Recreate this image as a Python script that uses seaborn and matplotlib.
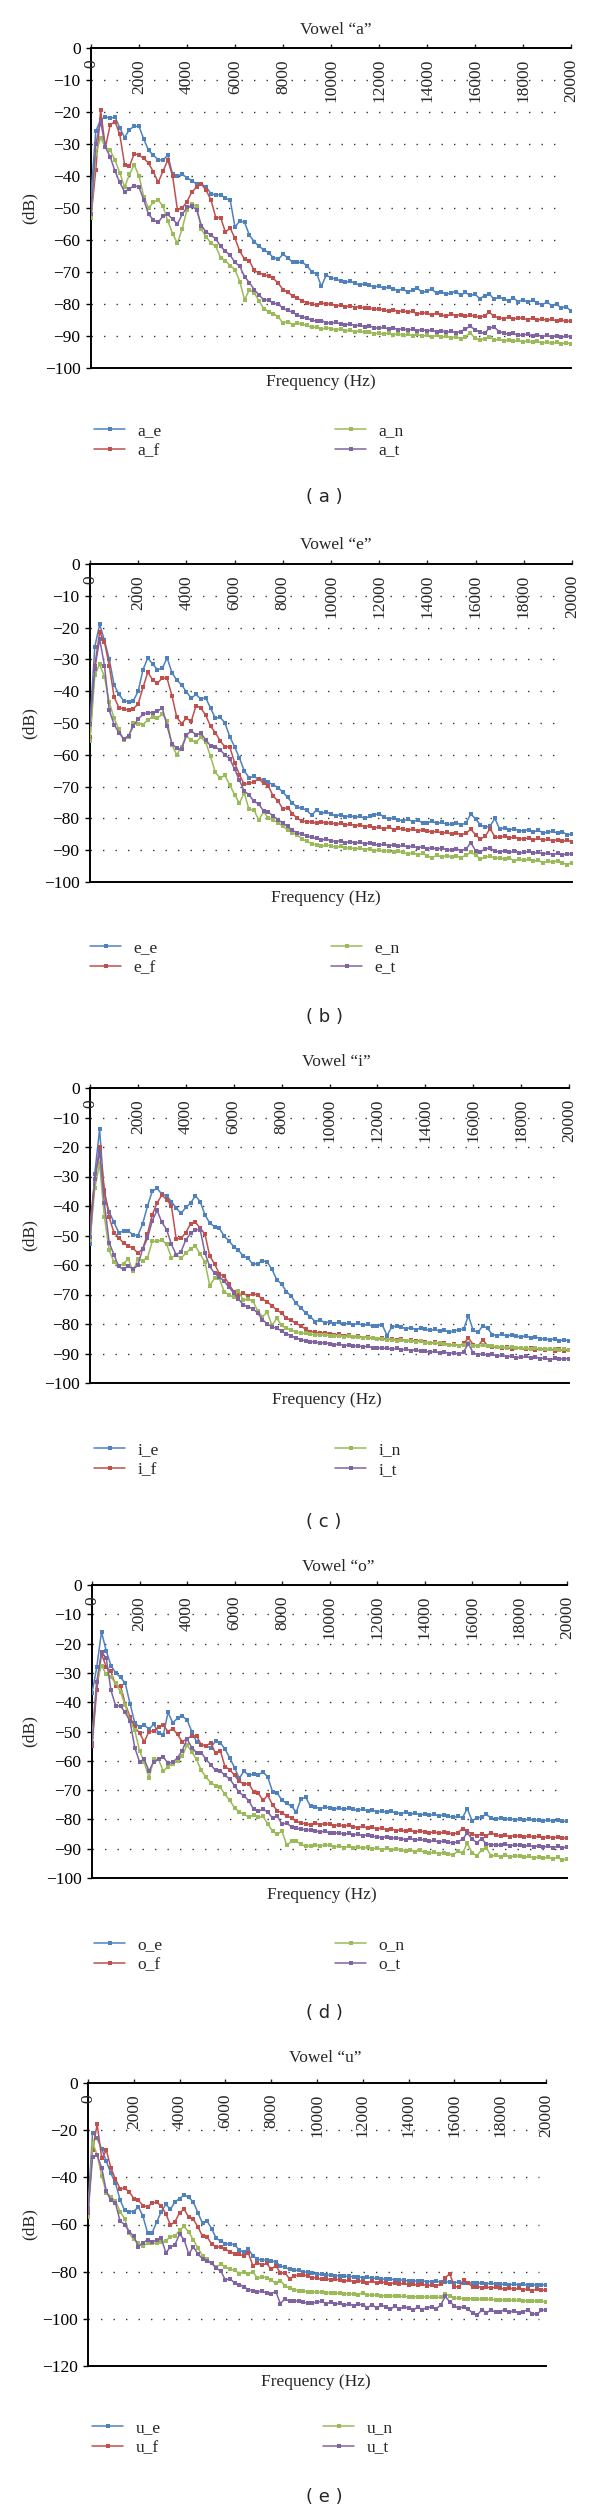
import matplotlib
matplotlib.use("Agg")
import matplotlib.pyplot as plt
from matplotlib.lines import Line2D
from matplotlib.transforms import blended_transform_factory
import seaborn as sns

# ---- data (dB values, one point every 200 Hz) ----
FREQ = list(range(0, 20001, 200))
X_TICKS = list(range(0, 20001, 2000))
VOWELS = ["a", "e", "i", "o", "u"]
SPEAKERS = ["e", "f", "n", "t"]
PANEL_TAGS = ["a", "b", "c", "d", "e"]

A_E = [-46, -26, -22.5, -21.5, -22, -21.5, -25, -28, -25.5, -24.5,
       -24.5, -28.5, -32, -33.5, -35, -35, -33.5, -39.5, -40, -39.5,
       -40.5, -41.5, -42.5, -42.5, -43.5, -45.5, -46, -45.8, -47, -47.5,
       -56, -54, -54.5, -58.5, -60.5, -62, -63, -64, -65.5, -66,
       -64.5, -65.5, -67, -67, -67, -68, -70] + [
       -70.5, -74.5, -71, -71.8,
       -72.2, -72.8, -73.2, -72.9, -73.5, -74.1, -73.6, -74.2, -74.6, -74.4,
       -75.1, -74.7, -75.3, -75.8, -75.2, -76.4, -75.5, -75.1, -76.3, -76,
       -75.4, -76.6, -76.2, -77, -76.5, -76.1, -77.2, -76.4, -77.3, -77,
       -78.3, -77.4, -76.9, -78.5, -77.8, -78.4, -79, -78.1, -79.3, -78.6,
       -79.5, -78.8, -79.7, -80.2, -79.4, -80.5, -80.1, -81.2, -80.8, -82.3]
A_F = [-53, -38, -19.5, -31, -24, -23, -27, -36.5, -37, -33,
       -33.5, -34.5, -36, -38.7, -42, -38.5, -35, -40, -50.5, -50,
       -48, -45, -43.5, -42.5, -44.5, -47.5, -53, -53, -57.5, -56.3,
       -59.5, -63.5, -66, -66.5, -69.5, -70.3, -70.8, -71.3, -72, -73.5,
       -75.5, -76.3, -77.5, -78.2, -79, -79.6, -80] + [
       -80.3, -79.6, -80.1, -79.9,
       -80.6, -80.3, -80.9, -80.5, -81.1, -80.8, -81.4, -81.2, -81.7, -81.5,
       -81.9, -82.3, -81.8, -82.4, -82.1, -82.6, -82.3, -83.2, -82.7, -82.9,
       -83.5, -82.8, -83.4, -83.9, -83.1, -83.6, -83.3, -83.9, -83.5, -83.8,
       -84.1, -83.6, -82.6, -83.9, -84.3, -84.6, -84.1, -84.7, -84.3, -84.5,
       -84.9, -84.4, -85, -84.7, -85.1, -84.8, -85.3, -85, -85.4, -85.3]
A_N = [-53, -33, -28, -31, -32, -35, -39, -43.5, -39.5, -36.5,
       -40, -46.5, -50, -48.2, -47.5, -49.5, -54, -58, -61, -56.5,
       -50.5, -48.7, -49.5, -56.7, -59, -61, -62, -65.5, -66.5, -68,
       -69.3, -73, -78.7, -75.5, -76.5, -79, -81.5, -82.4, -83, -84,
       -86, -85.5, -86.5, -86, -86.3, -86.7, -87.3] + [
       -87.2, -87.9, -87.4, -87.7,
       -88.1, -87.8, -88.4, -88.2, -88.7, -88.4, -88.9, -88.6, -89.3, -89.1,
       -89.5, -89, -89.6, -89.3, -89.8, -89.4, -89.9, -89.5, -90.1, -89.7,
       -90.2, -89.8, -90.4, -90, -90.6, -90.2, -90.8, -90.3, -89, -90.7,
       -91.2, -90.8, -90.2, -91.3, -91, -91.5, -91.2, -91.7, -91.4, -91.8,
       -91.5, -92, -91.7, -92.2, -91.9, -92.3, -92, -92.4, -92.1, -92.4]
A_T = [-52, -30, -23, -31, -34, -38.5, -42, -45, -44, -43,
       -43.5, -47.5, -52, -53.7, -54.5, -52.5, -52, -53.5, -55, -52,
       -49.8, -49.5, -50.5, -55.5, -57.5, -58.5, -59.6, -62, -63.5, -64.8,
       -67, -68.2, -71.5, -73.3, -75.5, -77.2, -78.7, -78.8, -79.8, -80,
       -81.4, -82, -82.6, -83.5, -84, -84.5, -85] + [
       -85.4, -85.2, -85.8, -86,
       -85.7, -86.3, -86.5, -86.2, -86.8, -86.6, -87.1, -86.8, -87.4, -87.6,
       -87.3, -87.8, -87.5, -88, -87.7, -88.2, -87.9, -88.3, -88, -88.4,
       -88.2, -88.7, -88.3, -88.9, -88.5, -89, -88.6, -87.8, -87, -88,
       -88.8, -89.2, -87.5, -87.2, -88.6, -89.1, -89.5, -89.2, -89.8, -89.7,
       -89.4, -90, -89.6, -90.2, -89.8, -90.3, -89.9, -90.4, -90, -90.2]

E_E = [-50, -26, -19, -24, -30, -38, -41, -43, -43.3, -43,
       -40, -33.2, -29.5, -31.5, -33.2, -32.8, -29.5, -34.2, -36.5, -38,
       -40.2, -42.2, -41, -42.5, -42, -45.3, -48.5, -48.2, -50, -54.3,
       -57.5, -61, -65, -67.2, -66.8, -67.7, -67.8, -68.7, -69.4, -70.3,
       -71.7, -73.4, -75.2, -76.5, -76.8, -77.5, -79] + [
       -77.3, -78.4, -78, -78.6,
       -79.2, -78.8, -79.5, -79.1, -79.7, -79.3, -80, -79.4, -78.9, -78.5,
       -79.6, -80.2, -79.8, -80.5, -80.7, -80.3, -81, -80.6, -81.4, -81.3,
       -80.9, -81.6, -81.2, -81.9, -81.8, -81.4, -82, -81.5, -78.6, -80.2,
       -82, -82.8, -82.4, -80, -83.4, -82.9, -83.6, -83.2, -83.9, -83.9,
       -83.5, -84.2, -83.8, -84.5, -84.4, -84, -84.7, -84.3, -85.1, -85]
E_F = [-54.5, -32, -21.5, -24.5, -32, -41.8, -45.2, -45.5, -46, -45.5,
       -44, -38.8, -34, -36.5, -37.5, -35.8, -36, -41.4, -48.2, -50.2,
       -48.5, -49.5, -44.5, -45.3, -47.5, -51, -53, -55.6, -57.5, -57.5,
       -62.5, -66.2, -69.3, -69, -68.5, -67.5, -69, -69.8, -73, -74.5,
       -77, -76.6, -78.5, -80, -80.8, -81, -81.2] + [
       -81.5, -81, -81.6, -81.3,
       -81.9, -81.6, -82.1, -81.8, -82.3, -82, -82.6, -82.3, -82.9, -82.8,
       -83.3, -82.7, -83.5, -83.1, -83.4, -83.8, -83.3, -84, -83.6, -83.9,
       -84.4, -84, -84.7, -84.3, -85, -84.6, -85.1, -84.7, -83.4, -85.2,
       -86.5, -85.6, -83.2, -85.8, -86, -85.6, -86.2, -85.8, -86.4, -86.5,
       -86.1, -86.7, -86.3, -86.9, -86.6, -87, -86.7, -87.2, -86.9, -87.3]
E_N = [-55.6, -35, -31.5, -35.5, -43.5, -48.5, -52, -55.5, -54.3, -50,
       -50.2, -50.5, -49, -48, -48.5, -47.2, -49.3, -57, -60, -57.5,
       -54, -55.5, -56, -54.5, -56, -60.5, -65.5, -67.3, -66.5, -69.5,
       -72.5, -75.2, -72, -77.2, -77.3, -80.5, -78, -79.8, -80.5, -81.3,
       -82.5, -83.6, -84.5, -85.2, -86.5, -87.2, -88] + [
       -88.3, -88.8, -88.4, -88.6,
       -89.1, -88.8, -89.4, -89.2, -89.6, -89.3, -89.8, -89.5, -90.1, -90,
       -90.4, -90.1, -90.7, -90.3, -90.7, -91.2, -90.8, -91.5, -91, -91.8,
       -92.3, -91.6, -92.1, -91.7, -92.1, -91.8, -92.3, -91.6, -90.7, -91.5,
       -92.8, -92.2, -91.8, -92.6, -92.3, -92.9, -92.5, -93.3, -92.8, -93.2,
       -92.9, -93.5, -93.1, -94.1, -93.4, -93.8, -93.3, -94, -94.5, -93.9]
E_T = [-50.3, -33, -23.5, -32, -46, -50.5, -53, -55, -54, -51,
       -48.7, -47.3, -46.7, -46.8, -46.3, -45.3, -51, -56.5, -58, -58.2,
       -53.8, -52.5, -53.7, -53.3, -55.2, -57.2, -57.5, -58.5, -60, -61.3,
       -64.5, -68, -71.4, -72.6, -74.6, -75.5, -77.6, -78.1, -79.2, -80.4,
       -81.5, -82.5, -83.8, -84.5, -85, -85.5, -86] + [
       -86.3, -86.8, -86.5, -87,
       -87.3, -87, -87.6, -87.3, -87.8, -87.5, -88, -87.7, -88.2, -88.4,
       -88.1, -88.6, -88.3, -88.8, -88.5, -89.1, -88.7, -89.3, -88.9, -89.5,
       -89.2, -89.7, -89.3, -89.9, -90, -89.6, -90.1, -89.7, -87.6, -90.2,
       -90.5, -89.6, -89.3, -90.4, -90.5, -90.2, -90.7, -90.4, -90.9, -90.7,
       -90.4, -91, -90.6, -91.2, -90.9, -91.4, -91, -91.5, -91.1, -91.3]

I_E = [-53, -29, -14, -36, -42, -45.5, -49, -48.5, -48.5, -49.8,
       -50, -46, -40, -35, -34, -36, -36.5, -38.5, -40.7, -42.5,
       -40.5, -39, -36.5, -38.5, -43, -45.8, -47, -47.5, -50.2, -51.8,
       -53.8, -55, -57, -57.7, -59.8, -59.5, -58.5, -59, -61.5, -65,
       -66.5, -69, -70.5, -73, -74.5, -76.2, -77.5] + [
       -79.2, -78.6, -79.5, -79.4,
       -79.9, -79.3, -80.1, -79.7, -80.2, -79.8, -80.5, -80.1, -80.8, -80.6,
       -80.2, -83.9, -81, -80.7, -81.1, -81.6, -81.2, -81.9, -81.4, -81.7,
       -82.2, -81.8, -82.5, -82.1, -82.8, -82.3, -82, -81.7, -77.2, -82.2,
       -82.8, -80.6, -81.5, -83.6, -83.9, -83.4, -84.1, -83.7, -84.2, -84.4,
       -84, -84.7, -84.3, -85.1, -85, -85.4, -85, -85.7, -85.3, -85.8]
I_F = [-46, -31, -20, -34.5, -43.8, -49, -50.7, -52.6, -53.5, -54.3,
       -56, -54.5, -49.5, -43, -39, -36.3, -37.8, -40, -51.2, -51,
       -49, -46, -45.5, -47.5, -49.5, -57, -59.6, -63, -63.8, -66.5,
       -69, -70, -69.6, -70.5, -69.7, -70.2, -71.6, -72.5, -73.8, -75.3,
       -76.3, -78, -78.8, -79.8, -80.6, -81.8, -82.6] + [
       -82.8, -83.2, -82.9, -83.3,
       -83.7, -83.4, -84, -83.7, -84.3, -84, -84.6, -84.3, -84.9, -85,
       -84.7, -85.3, -85, -85.5, -85.2, -85.7, -85.4, -85.9, -85.6, -86.1,
       -86.5, -86.2, -86.8, -86.5, -87.2, -86.9, -87.4, -86.6, -84.7, -87,
       -87.6, -85.3, -87.4, -87.9, -87.8, -88.2, -87.9, -88.4, -88.1, -88.3,
       -88.6, -88.2, -88.7, -88.4, -88.9, -88.5, -89, -88.6, -89.1, -88.9]
I_N = [-51.5, -34, -25.5, -43.6, -54.9, -59, -60.5, -59.5, -58, -62,
       -58, -58.5, -57.5, -52, -52, -51.5, -53, -57.5, -56.5, -57.7,
       -56, -54.5, -53.5, -56.3, -59, -67, -64.5, -64.5, -69, -70,
       -71, -68.7, -72, -71.5, -72.2, -75.5, -77.5, -76, -80.5, -78,
       -80.5, -81.5, -82, -82.8, -83, -83.2, -83.5] + [
       -83.6, -83.8, -83.7, -83.9,
       -84.1, -84, -84.3, -84.2, -84.5, -84.4, -84.7, -84.6, -84.9, -85.2,
       -85.1, -85.4, -85.3, -85.6, -85.5, -85.8, -85.7, -86, -85.9, -86.4,
       -86.3, -86.6, -86.5, -86.9, -87.2, -87, -87.3, -87.1, -86.4, -87.3,
       -87.5, -87.2, -87.6, -87.5, -87.8, -87.7, -88, -87.8, -88.1, -88.3,
       -88.1, -88.4, -88.2, -88.5, -88.4, -88.6, -88.5, -88.7, -88.5, -88.7]
I_T = [-50.5, -31, -21.5, -39, -52.4, -56.5, -60.5, -61.5, -60.3, -61.5,
       -60, -54.5, -51, -45, -41.5, -45.5, -48, -53, -56.5, -55.5,
       -51.5, -49.3, -48, -48, -56, -60.5, -62.8, -64, -65.5, -67.5,
       -69.5, -71.5, -73.5, -74.2, -74.8, -76.3, -78.5, -80, -80.9, -81.5,
       -82.3, -83.3, -84, -84.8, -85.3, -85.7, -86] + [
       -86.1, -86.5, -86.3, -86.7,
       -87, -86.8, -87.3, -87.1, -87.5, -87.3, -87.8, -87.5, -88.1, -88,
       -88.3, -88.1, -88.6, -88.3, -88.8, -88.5, -89, -88.7, -89.3, -89.2,
       -89.6, -89.3, -89.8, -89.5, -90, -89.7, -90.3, -89.4, -86.7, -89.8,
       -90.4, -90.1, -90.6, -90.3, -90.9, -90.6, -91.1, -90.8, -91.4, -91.3,
       -91, -91.5, -91.2, -91.8, -91.4, -92.3, -91.6, -92, -91.7, -91.8]

O_E = [-37, -28, -16, -22.5, -27.5, -30, -31.5, -33.5, -40.5, -47,
       -48.5, -47.8, -49.2, -47.5, -50.5, -51.3, -43.5, -47, -45.5, -44.8,
       -46, -50, -53.5, -54.5, -55, -55.5, -53.3, -53.8, -56, -59,
       -62.3, -66, -63.5, -65, -64.5, -64.8, -63.8, -65.5, -70.5, -71,
       -73.5, -74.5, -75.5, -77.5, -73, -72.5, -75.5] + [
       -75.8, -76.3, -75.9, -76,
       -76.4, -76.1, -76.6, -76.2, -76.6, -76.9, -76.5, -77.1, -76.7, -77.5,
       -77.1, -77.6, -77.3, -77.8, -78, -77.6, -78.2, -77.9, -78.4, -78.3,
       -78.6, -78.3, -78.8, -78.5, -78.9, -79.3, -79, -79.4, -76.3, -80.4,
       -79.6, -79.2, -78.3, -79.5, -79.8, -79.6, -80, -79.8, -80.1, -80,
       -80.2, -79.9, -80.3, -80.1, -80.4, -80.2, -80.5, -80.3, -80.7, -80.6]
O_F = [-55, -36, -23.4, -28, -29.5, -34.5, -34.5, -40.5, -45, -48.5,
       -50.5, -53.5, -50, -49.8, -48.5, -47.8, -50, -49, -51, -53.5,
       -52.5, -51.5, -51.5, -54.5, -55, -53.8, -57.5, -56.5, -62, -63,
       -65, -67, -68, -67.8, -70.5, -71, -73.5, -71.8, -75, -77,
       -77.8, -78.8, -79.5, -80.6, -81.3, -81.5, -81.8] + [
       -81.3, -81.8, -81.4, -81.7,
       -82.1, -81.8, -82.3, -82, -82.5, -82.8, -82.4, -83, -82.7, -83.2,
       -83, -83.5, -83.2, -83.8, -83.6, -84.1, -83.7, -84.3, -83.9, -84.3,
       -84.6, -84.2, -84.8, -84.4, -84.6, -85, -84.5, -83.2, -84, -85.1,
       -85.5, -85, -85.6, -84.6, -85.3, -85.8, -85.4, -85.9, -85.5, -85.7,
       -86, -85.6, -86.1, -85.8, -86.2, -85.9, -86.3, -86, -86.4, -86.3]
O_N = [-52, -33, -27.5, -30.5, -31.5, -33.5, -36.5, -41, -46.5, -49.5,
       -56.5, -60.5, -65.8, -59.5, -59.5, -63.5, -62, -61, -60, -58.5,
       -54.5, -57, -59.5, -63.3, -65.5, -67.5, -68.5, -69, -71.5, -73.5,
       -76, -77.5, -78.2, -79.2, -78.5, -79.3, -79, -81.5, -84, -85,
       -84, -88.8, -87.5, -87.5, -88.5, -89.2, -89] + [
       -88.6, -89.2, -88.7, -88.9,
       -89.4, -89, -89.6, -89.2, -89.7, -89.3, -89.9, -89.5, -90.1, -89.7,
       -90.3, -89.9, -90.5, -90.1, -90.3, -90.8, -90.4, -91, -90.6, -91.2,
       -91.6, -91.1, -91.8, -91.3, -91.7, -92.2, -90.8, -91.5, -88.2, -91.3,
       -92.4, -90.5, -89.6, -92.5, -92.3, -92.7, -92.2, -92.8, -92.4, -92.6,
       -93, -92.6, -93.2, -92.8, -93.3, -92.9, -93.5, -93, -93.8, -93.5]
O_T = [-54, -33, -22.8, -25, -36, -41.3, -41.3, -43.5, -46.5, -55.5,
       -60.3, -59.5, -63.5, -60.3, -59.5, -58.7, -60.8, -60.5, -59, -56.5,
       -52.5, -55.5, -57.2, -57.2, -59.5, -61.3, -63.3, -63.5, -65, -66.2,
       -68.5, -70.8, -72, -73.6, -76.5, -77.3, -76.5, -77.5, -79.5, -78.8,
       -81.7, -81.2, -82.6, -83.1, -83.3, -83.5, -83.7] + [
       -83.9, -84.3, -84, -84.6,
       -84.8, -84.5, -85.1, -84.8, -85.3, -85, -85.6, -85.3, -85.8, -85.9,
       -86.2, -85.9, -86.5, -86.2, -86.6, -86.9, -86.5, -87.1, -86.8, -87.1,
       -87.5, -87.2, -87.7, -87.4, -87.8, -88.1, -87.6, -86.8, -84.6, -86.7,
       -87.9, -86.6, -88.3, -88.7, -88.6, -88.9, -88.5, -89, -88.7, -88.9,
       -89.2, -88.8, -89.3, -89, -89.5, -89.1, -89.6, -89.2, -89.7, -89.4]

U_E = [-53, -21, -23.5, -28, -33.2, -38.3, -42.5, -49.5, -54, -54.5,
       -54.5, -52.5, -56.5, -63.5, -63.5, -59, -54.5, -51.5, -53.5, -50.4,
       -49, -47.5, -48.5, -50.5, -55, -59.5, -58.5, -61.8, -65.9, -67,
       -68.2, -68.3, -68.5, -70.8, -71.8, -70.5, -73.2, -74.8, -75, -75.1,
       -75.5, -75.8, -77.6, -78.2, -79, -79.5, -79.3, -80, -80.3, -80.7,
       -81] + [
       -81.2, -81.5, -81.4, -81.8, -81.7, -82, -81.9, -82.3, -82.2, -82.5,
       -82.4, -82.8, -82.7, -83.1, -83.2, -83.1, -83.5, -83.4, -83.7, -83.9,
       -83.8, -84.1, -83.9, -84.2, -84.2, -84.1, -84.4, -84.2, -84.5, -84.6,
       -84.4, -84.8, -84.6, -84.9, -84.9, -84.8, -85.1, -84.9, -85.3, -85.4,
       -85.2, -85.5, -85.3, -85.6, -85.4, -85.7, -85.5, -85.8, -85.5, -85.6]
U_F = [-54, -28.3, -17.5, -32, -28.5, -36, -40.8, -44.8, -44.7, -46.1,
       -49, -49.7, -52, -52.5, -51, -50.5, -52.2, -55.5, -60.2, -58.8,
       -55, -53.5, -57, -57.8, -61, -65, -65.3, -68.2, -69.5, -69.5,
       -70.5, -71.5, -72.5, -72.5, -73.5, -72, -77.5, -76.2, -77.2, -76.5,
       -79, -77.5, -80.5, -80.5, -83, -81.8, -81.5, -81.3, -81.9, -82.5,
       -82.8] + [
       -83.3, -82.9, -83.6, -83.2, -83.5, -84, -83.6, -84.2, -83.8, -84.2,
       -84.6, -84.1, -84.8, -84.3, -84.6, -85.1, -84.6, -85.3, -84.9, -85.6,
       -85.2, -85.8, -85.3, -86, -85.6, -85.9, -85.4, -82.5, -81, -86.3,
       -86.6, -83.6, -84.8, -86.5, -86.3, -86.8, -86.4, -87, -86.6, -87,
       -87.4, -86.9, -87.5, -87.1, -87.8, -87.3, -88, -87.4, -87.9, -87.7]
U_N = [-57, -25.3, -30.5, -39.5, -46.5, -48.2, -50, -54.5, -57.5, -63.8,
       -66.3, -68, -69, -68, -68, -68, -67.5, -66.8, -65.2, -64.8,
       -62.5, -60.8, -63.2, -66.5, -70, -73.2, -74.8, -76.5, -78, -76.8,
       -78, -79, -79.3, -80.8, -80, -80.9, -80, -82.8, -82.2, -82.5,
       -83.6, -85, -83.8, -85.9, -87.1, -87.8, -88, -88.4, -88.5, -88.6,
       -88.7] + [
       -88.8, -88.9, -89, -89.1, -89.2, -89.3, -89.5, -89.4, -89.7, -89,
       -89.9, -90, -90.1, -90.2, -90.3, -90.3, -90.4, -90.5, -90.5, -90.6,
       -90.6, -90.7, -90.7, -90.8, -90.8, -90.9, -90.9, -89.3, -90.5, -91.3,
       -91.2, -91.5, -91.4, -91.6, -91.7, -91.7, -91.8, -91.8, -91.9, -92,
       -92, -92.1, -92.2, -92.2, -92.3, -92.4, -92.4, -92.5, -92.6, -92.7]
U_T = [-55, -31.3, -30.6, -36, -46, -49.7, -51, -58.5, -60, -63,
       -65, -69.4, -67.8, -66.5, -67.5, -66.5, -65.8, -72, -69.5, -68.5,
       -64, -66.5, -72.5, -69.5, -72.5, -74.5, -75.5, -76.5, -78.5, -79.8,
       -83.5, -83, -84.8, -85.5, -86.3, -87.7, -88, -88.5, -88.3, -89,
       -89.3, -88.5, -93.5, -91.5, -92.5, -92.3, -92.6, -93, -93.3, -93.2,
       -93] + [
       -92.5, -93.6, -92.9, -93.8, -93.4, -94.3, -93.5, -94.6, -93.7, -94.1,
       -95.2, -94, -95.4, -94.3, -94.8, -96, -94.6, -95.8, -94.9, -95.5,
       -96.3, -95, -96.1, -95.2, -95, -95.8, -94.2, -90.5, -92.8, -94.5,
       -95.6, -94.8, -95.9, -97.5, -98.3, -96.2, -97.4, -96.3, -97.2, -96.9,
       -96.1, -97.3, -96.5, -97.6, -96.9, -96.2, -97.8, -98, -96.4, -96.2]

SERIES = [
    [A_E, A_F, A_N, A_T],
    [E_E, E_F, E_N, E_T],
    [I_E, I_F, I_N, I_T],
    [O_E, O_F, O_N, O_T],
    [U_E, U_F, U_N, U_T],
]
Y_MIN = [-100, -100, -100, -100, -120]
Y_STEP = [10, 10, 10, 10, 20]

# ---- layout (pixel positions on the 600 x 2512 canvas) ----
W, H = 600, 2512
COLORS = ["#4F81BD", "#C0504D", "#9BBB59", "#8064A2"]
FS = 12.5
BOXES = [(91, 571, 48, 368), (90, 572, 564, 882), (90, 569, 1088, 1383),
         (92, 567, 1585, 1878), (88, 546, 2083, 2366)]
TITLE_XY = [(336, 30), (336, 545), (336, 1062), (338, 1567), (325, 2058)]
XLABEL_XY = [(321, 382), (326, 898), (327, 1400), (322, 1895), (316, 2382)]
YLABEL_X = 30
LEGEND_XY = [(94, 335, 441), (90, 331, 958), (94, 335, 1460),
             (94, 335, 1955), (92, 323, 2438)]
TAG_XY = [(324, 497), (324, 1017), (324, 1522), (324, 2013), (324, 2497)]


def fig_xy(x, y):
    return x / W, 1 - y / H


def draw_panel(fig, i):
    l, r, t, b = BOXES[i]
    ax = fig.add_axes([l / W, 1 - b / H, (r - l) / W, (b - t) / H])
    vowel = VOWELS[i]

    for vals, color in zip(SERIES[i], COLORS):
        assert len(vals) == len(FREQ)
        sns.lineplot(x=FREQ, y=vals, ax=ax, color=color, linewidth=1.1,
                     marker="s", markersize=2.2, markeredgewidth=0,
                     legend=False, sort=False, zorder=3)

    ymin, step = Y_MIN[i], Y_STEP[i]
    ax.set_xlim(0, 20000)
    ax.set_ylim(ymin, 0)
    yticks = list(range(ymin, 1, step))
    ax.set_yticks(yticks)
    for y in yticks[1:-1]:
        ax.axhline(y, xmax=0.985, color="#333333", linewidth=1.0,
                   linestyle=(0, (1, 8)), zorder=1)

    for side in ["left", "top", "bottom"]:
        ax.spines[side].set_visible(True)
        ax.spines[side].set_color("black")
        ax.spines[side].set_linewidth(1.4)
    ax.spines["right"].set_visible(False)

    ax.tick_params(axis="y", left=True, direction="out", length=3.5,
                   width=1, pad=4, labelsize=FS, colors="black")
    ax.set_xticks(X_TICKS)
    ax.set_xticklabels([])
    ax.tick_params(axis="x", bottom=False, labelbottom=False, top=True,
                   labeltop=False, direction="out", length=3, width=1)
    trans = blended_transform_factory(ax.transData, ax.transAxes)
    for xt in X_TICKS:
        ax.text(xt, 1 - 11 / (b - t), str(xt), transform=trans, rotation=90,
                ha="center", va="top", fontsize=FS)

    ax.set_xlabel("Frequency (Hz)", fontsize=FS)
    ax.set_ylabel("(dB)", fontsize=FS)
    cx, cy = XLABEL_XY[i]
    ax.xaxis.set_label_coords((cx - l) / (r - l), (b - cy) / (b - t))
    ax.xaxis.label.set_va("center")
    ax.yaxis.set_label_coords((YLABEL_X - l) / (r - l), 0.5)
    ax.yaxis.label.set_va("center")

    tx, ty = TITLE_XY[i]
    fig.text(*fig_xy(tx, ty), f"Vowel \u201c{vowel}\u201d", ha="center",
             va="center", fontsize=FS)

    handles = [Line2D([0], [0], color=c, linewidth=1.1, marker="s",
                      markersize=2.2, markeredgewidth=0) for c in COLORS]
    labels = [f"{vowel}_{s}" for s in SPEAKERS]
    x1, x2, ly = LEGEND_XY[i]
    for k, lx in enumerate([x1, x2]):
        fig.legend(handles[2 * k:2 * k + 2], labels[2 * k:2 * k + 2],
                   loc="center left", bbox_to_anchor=fig_xy(lx, ly),
                   frameon=False, borderpad=0, borderaxespad=0,
                   handlelength=1.8, handletextpad=0.7, labelspacing=0.25,
                   fontsize=FS)

    gx, gy = TAG_XY[i]
    fig.text(*fig_xy(gx, gy), f"( {PANEL_TAGS[i]} )", ha="center",
             va="center", fontsize=13, family=["DejaVu Sans"])
    return ax


def main():
    sns.set_theme(style="white")
    plt.rcParams["font.family"] = ["Liberation Serif", "DejaVu Serif"]
    plt.rcParams["axes.unicode_minus"] = True

    fig = plt.figure(figsize=(W / 100, H / 100), dpi=100)
    fig.patch.set_facecolor("white")
    for i in range(len(VOWELS)):
        draw_panel(fig, i)
    fig.savefig("out.png", dpi=100, facecolor="white")
    plt.close(fig)


if __name__ == "__main__":
    main()
